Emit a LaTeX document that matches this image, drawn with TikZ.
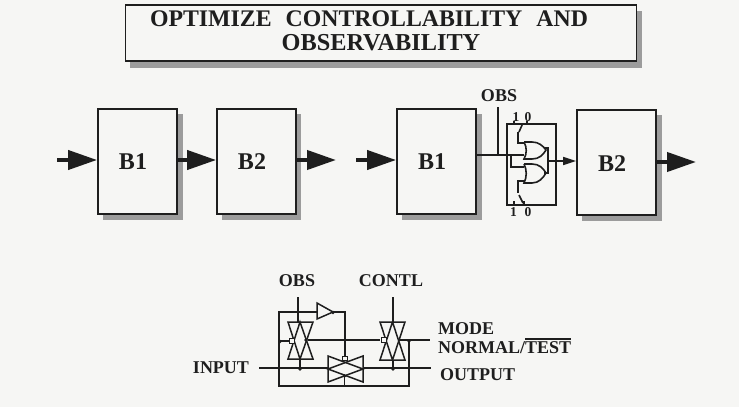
\documentclass[tikz,border=0pt]{standalone}
\usepackage{fontspec}
\setmainfont{Liberation Serif}
\usetikzlibrary{arrows.meta}
\definecolor{ink}{HTML}{1E1E1E}
\definecolor{paper}{HTML}{F6F6F4}
\definecolor{shade}{HTML}{9C9C9C}
\tikzset{
  wire/.style={draw=ink,line width=1.6pt},
  block/.style={draw=ink,line width=1.8pt,fill=paper,minimum width=79pt,minimum height=105pt,inner sep=0pt},
  blocktext/.style={font=\fontsize{24}{24}\selectfont\bfseries,text=ink,inner sep=0pt},
  drop/.style={fill=shade,draw=none},
  flow/.style={draw=ink,fill=ink,line width=4pt,-{Triangle[length=29pt,width=19pt]}},
  small flow/.style={draw=ink,fill=ink,line width=1.6pt,-{Triangle[length=13pt,width=8pt]}},
  lab/.style={font=\fontsize{18}{18}\selectfont\bfseries,text=ink,inner sep=0pt},
  bit/.style={font=\fontsize{13.5}{13.5}\selectfont\bfseries,text=ink,inner sep=0pt},
  titletext/.style={font=\fontsize{24.3}{24}\selectfont\bfseries,text=ink,inner sep=0pt},
  tg/.style={draw=ink,line width=1.5pt,line join=miter},
  pt/.style={circle,fill=ink,inner sep=0pt,minimum size=3.8pt},
  bubble/.style={draw=ink,line width=1.2pt,fill=paper,minimum size=4.5pt,inner sep=0pt},
}
\begin{document}
\begin{tikzpicture}[x=1pt,y=-1pt]
\fill[paper] (0,0) rectangle (739,407);
\useasboundingbox (0,0) rectangle (739,407);
% title
\fill[drop] (130,55) rectangle (642,68);
\fill[drop] (630,11) rectangle (642,68);
\node[draw=ink,line width=1.8pt,fill=paper,minimum width=511pt,minimum height=56pt,inner sep=0pt] (title) at (381,33) {};
\node[titletext,font=\fontsize{23.8}{24}\selectfont\bfseries] (t1) at (369,19) {OPTIMIZE\hspace{14pt}CONTROLLABILITY\hspace{14pt}AND};
\node[titletext] (t2) at (381,43) {OBSERVABILITY};
% block shadows
\fill[drop] (103,114) rectangle (183,220);
\fill[drop] (222,114) rectangle (301,220);
\fill[drop] (402,114) rectangle (482,220);
\fill[drop] (582,115) rectangle (662,221);
% blocks
\node[block] (a1) at (137.5,161.5) {};
\node[block] (a2) at (256.5,161.5) {};
\node[block] (b1) at (436.5,161.5) {};
\node[block] (b2) at (616.5,162.5) {};
\node[blocktext] (a1t) at (133,162) {B1};
\node[blocktext] (a2t) at (252,162) {B2};
\node[blocktext] (b1t) at (432,162) {B1};
\node[blocktext] (b2t) at (612,164) {B2};
% arrows
\coordinate (in1) at (57,160);
\coordinate (out1) at (336,160);
\coordinate (in2) at (356,160);
\coordinate (out2) at (696,162);
\draw[flow] (in1) -- (a1.west |- in1);
\draw[flow] (a1.east |- in1) -- (a2.west |- in1);
\draw[flow] (a2.east |- in1) -- (out1);
\draw[flow] (in2) -- (b1.west |- in2);
\draw[flow] (b2.east |- out2) -- (out2);
% mux
\node[draw=ink,line width=1.5pt,minimum width=49pt,minimum height=81pt,inner sep=0pt] (mux) at (531.5,164.5) {};
\node[lab] (obsA) at (499,96) {OBS};
\coordinate (obsAb) at (498,107);
\coordinate (tapA) at (498,155);
\draw[wire] (obsAb) -- (tapA);
\coordinate (gateA) at (524,155);
\draw[wire] (b1.east |- tapA) -- (gateA);
\draw[wire] (511,155) -- (511,167) -- (524,167);
\draw[wire] (524,142) -- (532,142) .. controls (539,142) and (543,146) .. (546,150) .. controls (543,155) and (539,159) .. (532,159) -- (524,159) .. controls (527,154) and (527,147) .. (524,142);
\draw[wire] (524,164) -- (532,164) .. controls (539,164) and (543,168) .. (546,173) .. controls (543,178) and (539,183) .. (532,183) -- (524,183) .. controls (527,177) and (527,170) .. (524,164);
\draw[wire] (544,148) -- (548,148) -- (548,173) -- (544,173);
\coordinate (muxout) at (548,161);
\draw[small flow] (muxout) -- (b2.west |- muxout);
\draw[wire] (524,143) -- (518,143) -- (518,132);
\draw[wire] (519,132) -- (522.5,124);
\draw[wire] (514,124) -- (514,121);
\draw[wire] (527,124) -- (527,121);
\draw[wire] (524,181) -- (518,181) -- (518,193);
\draw[wire] (519,195) -- (523,203);
\draw[wire] (514,205) -- (514,201);
\draw[wire] (524,205) -- (524,201);
\node[bit] (s1) at (516,117) {1};
\node[bit] (s0) at (528,117) {0};
\node[bit] (r1) at (513.5,212) {1};
\node[bit] (r0) at (528,212) {0};
% lower circuit labels
\node[lab] (obsB) at (297,281) {OBS};
\node[lab] (contl) at (391,281) {CONTL};
\node[lab] (input) at (221,368) {INPUT};
\node[lab,anchor=west] (mode) at (438,329) {MODE};
\node[lab,anchor=west] (normal) at (438,346) {NORMAL/\rlap{\rule[13.5pt]{46pt}{1.5pt}}TEST};
\node[lab,anchor=west] (output) at (440,375) {OUTPUT};
% lower wires
\coordinate (obsT) at (298,297);
\coordinate (conT) at (393,297);
\coordinate (inL) at (259,368);
\coordinate (outR) at (431,368);
\coordinate (modeR) at (430,340);
\draw[wire] (obsT) -- (298,322);
\draw[wire] (conT) -- (393,322);
\draw[wire] (inL) -- (328,368);
\draw[wire] (363,368) -- (outR);
\draw[wire] (300,360) -- (300,368);
\draw[wire] (393,360) -- (393,368);
\draw[wire] (308,340) -- (380,340);
\draw[wire] (399,340) -- (modeR);
\draw[wire] (317,312) -- (279,312) -- (279,386) -- (409,386) -- (409,340);
\draw[wire] (280,341) -- (290,341);
\draw[wire] (333,312) -- (345,312) -- (345,356);
\draw[wire] (344.5,375) -- (344.5,386);
% buffer
\draw[tg,fill=paper] (317,303) -- (333,312) -- (317,319) -- cycle;
% transmission gates
\draw[tg] (288,322) -- (313,322) -- (300,359) -- cycle;
\draw[tg] (288,359) -- (313,359) -- (300,322) -- cycle;
\draw[tg] (380,322) -- (405,322) -- (392.5,360) -- cycle;
\draw[tg] (380,360) -- (405,360) -- (392.5,322) -- cycle;
\draw[tg] (328,356) -- (328,382) -- (363,369) -- cycle;
\draw[tg] (363,356) -- (363,382) -- (328,369) -- cycle;
% bubbles and joints
\node[bubble] (bq1) at (292,341) {};
\node[bubble] (bq2) at (384,340) {};
\node[bubble] (bq3) at (345,358.5) {};
\node[pt] (d1) at (333,312.5) {};
\node[pt] (d2) at (280,341.5) {};
\node[pt] (d3) at (300,369) {};
\node[pt] (d4) at (393,369) {};
\node[pt] (d5) at (409,341) {};
\node[pt] (d6) at (306,340) {};
\node[pt] (d7) at (344.5,376) {};
\end{tikzpicture}
\end{document}
